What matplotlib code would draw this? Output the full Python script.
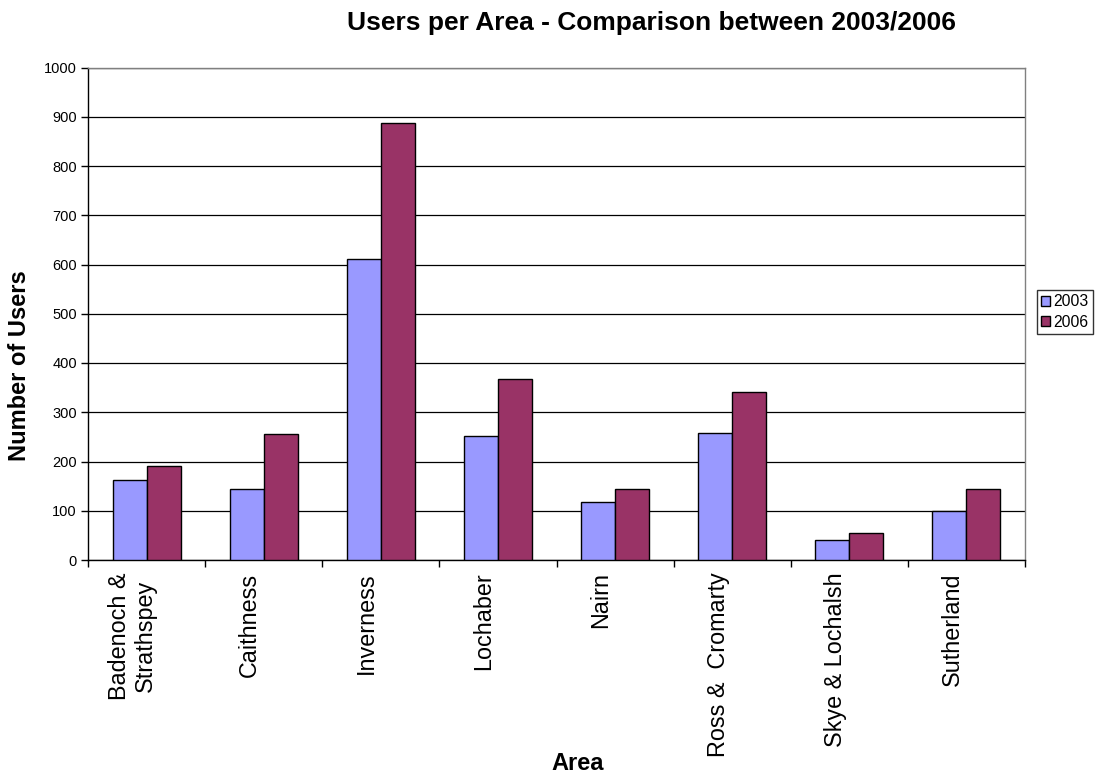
import matplotlib
matplotlib.use("Agg")
import matplotlib.pyplot as plt
import matplotlib.transforms as mtransforms
import numpy as np
from matplotlib.patches import Patch

plt.rcParams['font.family'] = ['Liberation Sans', 'DejaVu Sans']

areas = ["Badenoch &\nStrathspey", "Caithness", "Inverness", "Lochaber", "Nairn",
         "Ross &  Cromarty", "Skye & Lochalsh", "Sutherland"]
users_2003 = [162, 145, 611, 251, 117, 258, 40, 99]
users_2006 = [190, 255, 888, 367, 145, 341, 54, 145]
series_labels = ["2003", "2006"]
y_ticks = list(range(0, 1001, 100))

color_2003 = "#9999FF"
color_2006 = "#993366"

fig = plt.figure(figsize=(10.96, 7.78), dpi=100)
ax = fig.add_axes([88 / 1096, 1 - 560 / 778, (1025 - 88) / 1096, (560 - 67.5) / 778])

x = np.arange(len(areas))
w = 0.29
ax.bar(x - w / 2, users_2003, width=w, color=color_2003, edgecolor="black", linewidth=1.0, zorder=3)
ax.bar(x + w / 2, users_2006, width=w, color=color_2006, edgecolor="black", linewidth=1.0, zorder=3)

ax.set_xlim(-0.5, len(areas) - 0.5)
ax.set_ylim(0, 1000)
ax.set_yticks(y_ticks)
ax.set_yticklabels([str(v) for v in y_ticks], fontsize=10.5)
ax.yaxis.grid(True, color="black", linewidth=0.9, zorder=0)
ax.tick_params(axis="y", direction="out", length=5, width=1, pad=3)

# category labels at group centres, boundary tick marks between groups
ax.set_xticks(x)
ax.set_xticklabels(areas, rotation=90, fontsize=16.8, va="top", ha="center",
                   multialignment="center")
ax.tick_params(axis="x", which="major", length=0, pad=9)
ax.set_xticks(np.arange(-0.5, len(areas) + 0.5, 1), minor=True)
ax.tick_params(axis="x", which="minor", direction="out", length=5, width=1)

# rotated labels sit slightly left of the group centre
shift = mtransforms.ScaledTranslation(-14 / 100, 0, fig.dpi_scale_trans)
for lbl in ax.get_xticklabels():
    lbl.set_transform(lbl.get_transform() + shift)

for side in ["left", "bottom"]:
    ax.spines[side].set_color("black")
    ax.spines[side].set_linewidth(1.0)
for side in ["right", "top"]:
    ax.spines[side].set_color("#808080")
    ax.spines[side].set_linewidth(1.0)

fig.text(651.5 / 1096, 1 - 23 / 778, "Users per Area - Comparison between 2003/2006",
         fontsize=19, fontweight="bold", ha="center", va="center")
fig.text(20 / 1096, 1 - 366 / 778, "Number of Users", fontsize=17, fontweight="bold",
         rotation=90, ha="center", va="center")
fig.text(578 / 1096, 1 - 763 / 778, "Area", fontsize=17, fontweight="bold",
         ha="center", va="center")

handles = [Patch(facecolor=color_2003, edgecolor="black", linewidth=1.0),
           Patch(facecolor=color_2006, edgecolor="black", linewidth=1.0)]
leg = fig.legend(handles, series_labels, loc="center left",
                 bbox_to_anchor=(1037 / 1096, 1 - 312 / 778), fontsize=11.3,
                 frameon=True, fancybox=False, handlelength=0.6, handleheight=0.6,
                 handletextpad=0.2, borderpad=0.25, labelspacing=0.35, borderaxespad=0)
leg.get_frame().set_edgecolor("black")
leg.get_frame().set_linewidth(1.0)

fig.savefig("out.png", dpi=100, facecolor="white")
